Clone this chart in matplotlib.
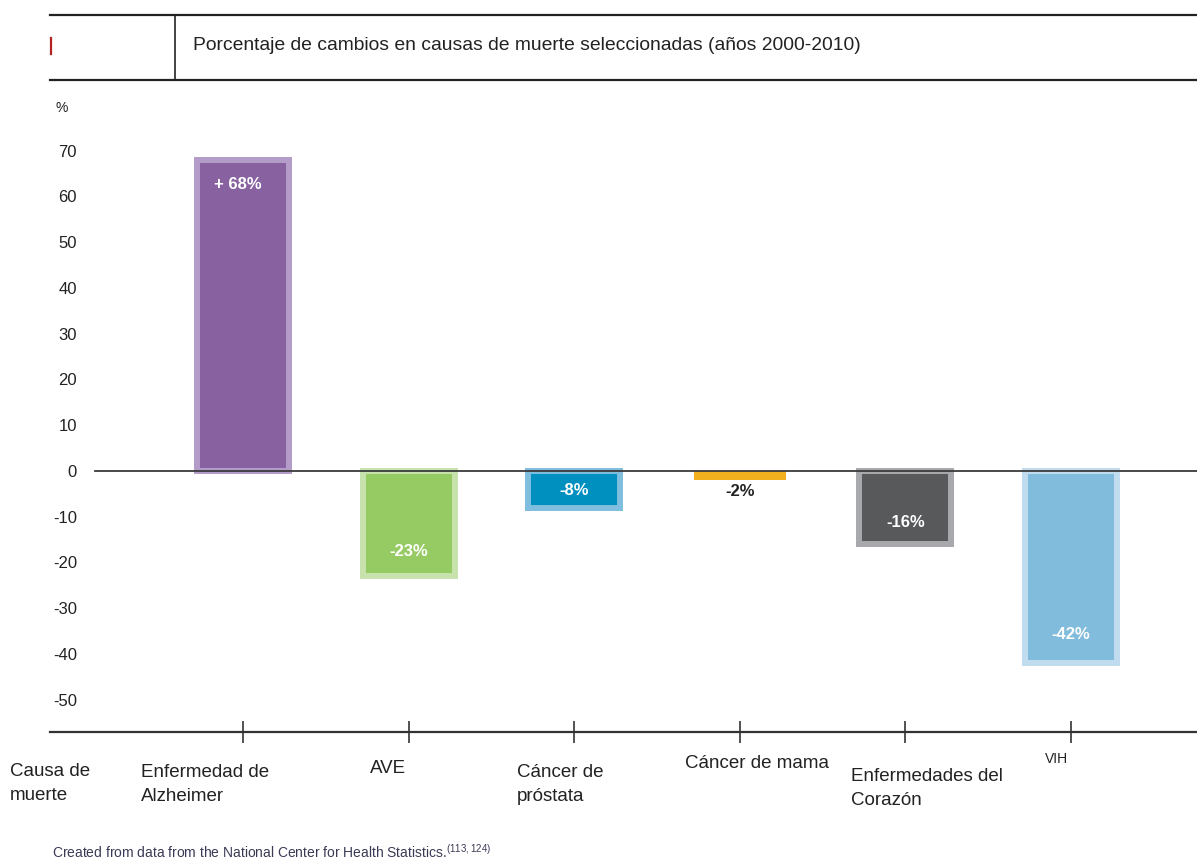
import matplotlib
matplotlib.use("Agg")
import matplotlib.pyplot as plt
from matplotlib.lines import Line2D

# ---------------- data ----------------
categories = ["Enfermedad de\nAlzheimer", "AVE", "Cáncer de\npróstata",
              "Cáncer de mama", "Enfermedades del\nCorazón", "VIH"]
values = [68, -23, -8, -2, -16, -42]
value_labels = ["+ 68%", "-23%", "-8%", "-2%", "-16%", "-42%"]
yticks = [70, 60, 50, 40, 30, 20, 10, 0, -10, -20, -30, -40, -50]
title = "Porcentaje de cambios en causas de muerte seleccionadas (años 2000-2010)"
source = r"Created from data from the National Center for Health Statistics.$^{\mathregular{(113,124)}}$"

# ---------------- style ----------------
inner_colors = ["#8761a0", "#96cb64", "#0090c0", "#f2b01e", "#58595b", "#81bcdc"]
outer_colors = ["#b39cc8", "#c7e2ac", "#7fbede", "#f2b01e", "#a7a9ac", "#c0dcee"]
edge_widths = [4.3, 4.3, 4.3, 0, 4.3, 4.3]
label_colors = ["white", "white", "white", "#222222", "white", "white"]
label_offsets = [(-5, -25), (0, 25), (0, 17), (0, -11), (0, 22), (0, 29)]
cat_offsets = [(-102, -32), (-39, -28), (-57, -32), (-55, -23), (-54, -36), (-26, -20)]
cat_sizes = [13.5, 13.5, 13.5, 13.5, 13.5, 10]

NARROW = ["Liberation Sans Narrow", "Liberation Sans", "DejaVu Sans"]
REG = ["Liberation Sans", "DejaVu Sans"]

W, H = 1197, 860
fig = plt.figure(figsize=(W / 100, H / 100), dpi=100)

def fx(px):
    return px / W

def fy(py):
    return 1 - py / H

ax_left, ax_right, ax_bottom, ax_top = 50, 1197, 732, 130
ax = fig.add_axes([fx(ax_left), fy(ax_bottom), fx(ax_right - ax_left), (ax_bottom - ax_top) / H])

px_per_unit = 4.575
y_zero = 471
ax.set_ylim(-(ax_bottom - y_zero) / px_per_unit, (y_zero - ax_top) / px_per_unit)
x_unit = 165.6
x0 = 243
ax.set_xlim(-(x0 - ax_left) / x_unit, (ax_right - x0) / x_unit)

xs = list(range(len(categories)))
bar_w = (98 - 6) / x_unit
for i, v in enumerate(values):
    ax.bar(xs[i], v, width=bar_w, color=inner_colors[i], edgecolor=outer_colors[i],
           linewidth=edge_widths[i], zorder=2)
    ax.annotate(value_labels[i], xy=(xs[i], v), xytext=label_offsets[i],
                textcoords="offset pixels", ha="center", va="center",
                color=label_colors[i], fontsize=12, fontweight="bold",
                family=NARROW, zorder=4)

# zero line
ax.axhline(0, xmin=(95 - ax_left) / (ax_right - ax_left), xmax=1, color="#3a3a3a",
           linewidth=1.3, zorder=3)

for s in ["top", "right"]:
    ax.spines[s].set_visible(False)
ax.spines["left"].set_visible(False)
ax.spines["left"].set_position(("axes", (82 - ax_left) / (ax_right - ax_left)))
ax.spines["bottom"].set_color("#333333")
ax.spines["bottom"].set_linewidth(1.6)

ax.set_yticks(yticks)
ax.set_yticklabels([str(t) for t in yticks], family=REG, fontsize=12, color="#222222")
ax.tick_params(axis="y", length=0, pad=3.6)
ax.set_xticks(xs)
ax.tick_params(axis="x", direction="inout", length=16, width=1.2, color="#333333",
               labelbottom=False)

for i, c in enumerate(categories):
    ax.annotate(c, xy=(xs[i], 0), xycoords=("data", "axes fraction"),
                xytext=cat_offsets[i], textcoords="offset pixels",
                ha="left", va="top", fontsize=cat_sizes[i], family=NARROW,
                color="#222222", linespacing=1.55)

fig.text(fx(10), fy(763), "Causa de\nmuerte", ha="left", va="top", fontsize=13.5,
         family=NARROW, color="#222222", linespacing=1.55)

fig.text(fx(55), fy(108), "%", ha="left", va="center", fontsize=10, family=NARROW,
         color="#222222")

# header
fig.add_artist(Line2D([fx(50), fx(1197)], [fy(15), fy(15)], color="#222222", linewidth=1.6))
fig.add_artist(Line2D([fx(50), fx(1197)], [fy(80), fy(80)], color="#222222", linewidth=1.6))
fig.add_artist(Line2D([fx(175), fx(175)], [fy(15), fy(80)], color="#222222", linewidth=1.2))
fig.add_artist(Line2D([fx(51), fx(51)], [fy(38), fy(54)], color="#b22222", linewidth=1.6))
fig.text(fx(193), fy(45), title, ha="left", va="center", fontsize=13.9, family=NARROW,
         color="#222222")

fig.text(fx(52), fy(852), source, ha="left", va="center", fontsize=10, family=REG,
         color="#3a3a55")

fig.savefig("out.png", dpi=100)
